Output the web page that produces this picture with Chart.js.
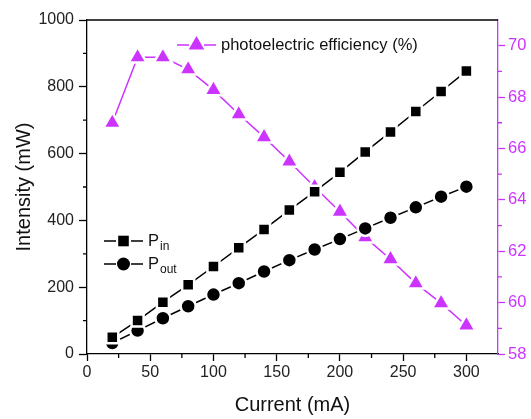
<!DOCTYPE html>
<html>
<head>
<meta charset="utf-8">
<script src="https://cdn.jsdelivr.net/npm/chart.js@4"></script>
<style>
  html, body { margin: 0; padding: 0; background: #fff; }
  #wrap { width: 531px; height: 419px; }
</style>
</head>
<body>
<div id="wrap"><canvas id="chart" width="531" height="419"></canvas></div>
<script>
// --- Data ---
const currents = [20, 40, 60, 80, 100, 120, 140, 160, 180, 200, 220, 240, 260, 280, 300];
const pIn = [50, 100, 155, 207, 262, 318, 373, 431, 486, 544, 605, 665, 726, 786, 847];
const pOut = [33, 70, 107, 143, 178, 212, 247, 281, 313, 344, 376, 408, 439, 471, 501];
const efficiency = [67.0, 69.55, 69.55, 69.08, 68.28, 67.33, 66.44, 65.49, 64.5, 63.54, 62.54, 61.69, 60.75, 59.98, 59.11];

const MAGENTA = '#cc33ff';
const FONT = "'Liberation Sans', Arial, sans-serif";

const toPoints = (ys) => currents.map((x, i) => ({ x, y: ys[i] }));

// --- Minor ticks, top border and legends ---
const extras = {
    id: 'extras',
    afterDraw(chart) {
        const ctx = chart.ctx;
        const area = chart.chartArea;
        const { x, y, y2 } = chart.scales;
        ctx.save();
        ctx.lineWidth = 1.3;

        // top frame line
        ctx.strokeStyle = '#000';
        ctx.beginPath();
        ctx.moveTo(area.left, area.top);
        ctx.lineTo(area.right, area.top);
        ctx.stroke();

        // minor ticks
        ctx.beginPath();
        for (let v = 25; v <= 300; v += 50) {
            const px = x.getPixelForValue(v);
            ctx.moveTo(px, area.bottom);
            ctx.lineTo(px, area.bottom + 4);
        }
        for (let v = 100; v <= 900; v += 200) {
            const py = y.getPixelForValue(v);
            ctx.moveTo(area.left, py);
            ctx.lineTo(area.left - 4, py);
        }
        ctx.stroke();
        ctx.strokeStyle = MAGENTA;
        ctx.beginPath();
        for (let v = 59; v <= 69; v += 2) {
            const py = y2.getPixelForValue(v);
            ctx.moveTo(area.right, py);
            ctx.lineTo(area.right + 4, py);
        }
        ctx.stroke();

        // legends
        const drawEntry = (lx, ly, color, style, label, sub) => {
            ctx.strokeStyle = color;
            ctx.fillStyle = color;
            ctx.lineWidth = 1.5;
            ctx.beginPath();
            ctx.moveTo(lx, ly);
            ctx.lineTo(lx + 12, ly);
            ctx.moveTo(lx + 27, ly);
            ctx.lineTo(lx + 39, ly);
            ctx.stroke();
            Chart.helpers.drawPoint(ctx, { pointStyle: style, radius: style === 'triangle' ? 9 : (style === 'rect' ? 7.5 : 6.5), rotation: 0, borderWidth: 0 }, lx + 19.5, ly);
            ctx.fillStyle = '#111';
            ctx.textBaseline = 'middle';
            ctx.textAlign = 'left';
            ctx.font = '16.5px ' + FONT;
            ctx.fillText(label, lx + 44, ly);
            if (sub) {
                const w = ctx.measureText(label).width;
                ctx.font = '12px ' + FONT;
                ctx.fillText(sub, lx + 44 + w + 1, ly + 6);
            }
        };
        drawEntry(area.left + 90, area.top + 25, MAGENTA, 'triangle', 'photoelectric efficiency (%)');
        drawEntry(area.left + 17, y.getPixelForValue(0) - 113, '#000', 'rect', 'P', 'in');
        drawEntry(area.left + 17, y.getPixelForValue(0) - 90, '#000', 'circle', 'P', 'out');
        ctx.restore();
    }
};

Chart.defaults.font.family = FONT;
Chart.defaults.color = '#222';

const seriesStyle = (color, style, radius) => ({
    borderColor: color,
    backgroundColor: color,
    borderWidth: 1.5,
    pointStyle: style,
    pointRadius: radius,
    pointBorderColor: '#fff',
    pointBorderWidth: 2.5
});

new Chart(document.getElementById('chart').getContext('2d'), {
    type: 'line',
    data: {
        datasets: [
            Object.assign({ label: 'Pin', data: toPoints(pIn), yAxisID: 'y' }, seriesStyle('#000', 'rect', 8.5)),
            Object.assign({ label: 'Pout', data: toPoints(pOut), yAxisID: 'y' }, seriesStyle('#000', 'circle', 7.5)),
            Object.assign({ label: 'photoelectric efficiency (%)', data: toPoints(efficiency), yAxisID: 'y2' }, seriesStyle(MAGENTA, 'triangle', 10.5))
        ]
    },
    options: {
        responsive: false,
        animation: false,
        layout: { padding: { top: 20, left: 0, right: 0, bottom: 0 } },
        plugins: { legend: { display: false }, tooltip: { enabled: false } },
        scales: {
            x: {
                type: 'linear',
                min: 0,
                max: 325,
                afterFit: (s) => { s.height = 65; },
                border: { color: '#000', width: 1.3 },
                grid: { drawOnChartArea: false, tickLength: 7, tickColor: '#000', tickWidth: 1.3 },
                ticks: { stepSize: 50, includeBounds: false, color: '#222', font: { size: 16 }, padding: 2, maxRotation: 0 },
                title: { display: true, text: 'Current (mA)', color: '#111', font: { size: 20 }, padding: { top: 0, bottom: 2 } }
            },
            y: {
                position: 'left',
                min: 0,
                max: 1000,
                afterFit: (s) => { s.width = 87; },
                border: { color: '#000', width: 1.3 },
                grid: { drawOnChartArea: false, tickLength: 8, tickColor: '#000', tickWidth: 1.3 },
                ticks: { stepSize: 200, includeBounds: false, color: '#222', font: { size: 16 }, padding: 5, callback: (v) => String(v) },
                title: { display: true, text: 'Intensity (mW)', color: '#111', font: { size: 20 }, padding: { top: 12, bottom: 0 } }
            },
            y2: {
                position: 'right',
                min: 58,
                max: 71,
                afterFit: (s) => { s.width = 33; },
                border: { color: MAGENTA, width: 1.3 },
                grid: { drawOnChartArea: false, tickLength: 7, tickColor: MAGENTA, tickWidth: 1.3 },
                ticks: { stepSize: 2, includeBounds: false, color: MAGENTA, font: { size: 16.5 }, padding: 3 }
            }
        }
    },
    plugins: [extras]
});
</script>
</body>
</html>
